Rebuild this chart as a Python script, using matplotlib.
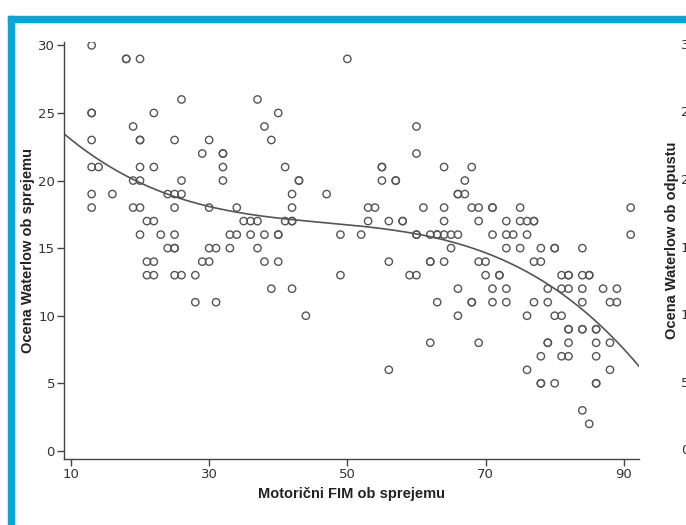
import numpy as np
import matplotlib
matplotlib.use("Agg")
import matplotlib.pyplot as plt
from matplotlib.patches import Rectangle

# Motoricni FIM ob sprejemu (x) and Ocena Waterlow ob sprejemu (y)
fim = [13, 18, 18, 20, 50,
       26, 37,
       13, 13, 22, 40,
       19, 38, 60,
       13, 20, 20, 25, 30, 39,
       29, 32, 32, 60,
       13, 14, 20, 22, 32, 41, 55, 55, 64, 68,
       19, 20, 26, 32, 43, 43, 55, 57, 57, 67,
       13, 16, 24, 25, 26, 42, 47, 66, 66, 67,
       13, 19, 20, 25, 30, 34, 42, 53, 54, 61, 64, 68, 69, 71, 71, 75, 91,
       21, 22, 35, 36, 37, 41, 42, 42, 53, 56, 58, 58, 64, 69, 73, 75, 76, 77, 77,
       20, 23, 25, 33, 34, 36, 38, 40, 40, 49, 52, 60, 60, 62, 63, 63, 64, 65, 66, 71, 73, 74, 76, 91,
       24, 25, 25, 30, 31, 33, 37, 65, 73, 75, 78, 80, 80, 84,
       21, 22, 29, 30, 38, 40, 56, 62, 62, 64, 69, 70, 77, 78,
       21, 22, 25, 26, 28, 49, 59, 60, 70, 72, 72, 81, 82, 82, 84, 85, 85,
       39, 42, 66, 71, 73, 79, 81, 82, 84, 87, 89,
       28, 31, 63, 68, 68, 71, 73, 77, 79, 84, 88, 89,
       44, 66, 76, 80, 81,
       82, 82, 84, 84, 86, 86,
       62, 69, 79, 79, 82, 86, 88,
       78, 81, 82, 86,
       56, 76, 88,
       78, 78, 80, 86, 86,
       84,
       85]
waterlow = [30, 29, 29, 29, 29,
            26, 26,
            25, 25, 25, 25,
            24, 24, 24,
            23, 23, 23, 23, 23, 23,
            22, 22, 22, 22,
            21, 21, 21, 21, 21, 21, 21, 21, 21, 21,
            20, 20, 20, 20, 20, 20, 20, 20, 20, 20,
            19, 19, 19, 19, 19, 19, 19, 19, 19, 19,
            18, 18, 18, 18, 18, 18, 18, 18, 18, 18, 18, 18, 18, 18, 18, 18, 18,
            17, 17, 17, 17, 17, 17, 17, 17, 17, 17, 17, 17, 17, 17, 17, 17, 17, 17, 17,
            16, 16, 16, 16, 16, 16, 16, 16, 16, 16, 16, 16, 16, 16, 16, 16, 16, 16, 16, 16, 16, 16, 16, 16,
            15, 15, 15, 15, 15, 15, 15, 15, 15, 15, 15, 15, 15, 15,
            14, 14, 14, 14, 14, 14, 14, 14, 14, 14, 14, 14, 14, 14,
            13, 13, 13, 13, 13, 13, 13, 13, 13, 13, 13, 13, 13, 13, 13, 13, 13,
            12, 12, 12, 12, 12, 12, 12, 12, 12, 12, 12,
            11, 11, 11, 11, 11, 11, 11, 11, 11, 11, 11, 11,
            10, 10, 10, 10, 10,
            9, 9, 9, 9, 9, 9,
            8, 8, 8, 8, 8, 8, 8,
            7, 7, 7, 7,
            6, 6, 6,
            5, 5, 5, 5, 5,
            3,
            2]

x_ticks = [10, 30, 50, 70, 90]
y_ticks = [0, 5, 10, 15, 20, 25, 30]

narrow = ["Liberation Sans Narrow", "DejaVu Sans"]
bold = ["Liberation Sans", "DejaVu Sans"]

fig = plt.figure(figsize=(6.86, 5.25), dpi=100)
fig.patch.set_facecolor("white")

# blue frame on top and left
blue = "#0aa6d6"
fig.patches.append(Rectangle((8 / 686, 0), 6 / 686, 1 - 16 / 525, transform=fig.transFigure,
                             color=blue, zorder=0))
fig.patches.append(Rectangle((8 / 686, 1 - 22 / 525), 1, 6 / 525, transform=fig.transFigure,
                             color=blue, zorder=0))

ax = fig.add_axes([64 / 686, 66 / 525, 575 / 686, 417 / 525])
ax.scatter(fim, waterlow, s=28, facecolors="none", edgecolors="#555555", linewidths=1.0, zorder=3)

# cubic fit line
coef = np.polyfit(fim, waterlow, 3)
xs = np.linspace(9.0, 92.2, 300)
ax.plot(xs, np.polyval(coef, xs), color="#555555", lw=1.2, zorder=2)

ax.set_xlim(9.0, 92.2)
ax.set_ylim(-0.6, 30.25)
ax.set_xticks(x_ticks)
ax.set_yticks(y_ticks)
ax.spines["top"].set_visible(False)
ax.spines["right"].set_visible(False)
for s in ("left", "bottom"):
    ax.spines[s].set_color("#444444")
    ax.spines[s].set_linewidth(1.0)
ax.tick_params(direction="out", length=5, width=1, color="#444444", labelcolor="#333333", labelsize=9.5)
ax.tick_params(axis="x", pad=1.5)
ax.tick_params(axis="y", pad=1.5)
for lab in ax.get_xticklabels() + ax.get_yticklabels():
    lab.set_family(narrow)

ax.set_xlabel("Motorični FIM ob sprejemu", family=bold, fontweight="bold", fontsize=10.5,
              color="#222222")
ax.set_ylabel("Ocena Waterlow ob sprejemu", family=bold, fontweight="bold", fontsize=10.5,
              color="#222222")
ax.xaxis.set_label_coords(0.5, -(487 - 459) / 417)
ax.yaxis.set_label_coords(-(64 - 35) / 575, 0.5)

# neighbouring panel cut off at the right edge
fig.text(672 / 686, 1 - 240 / 525, "Ocena Waterlow ob odpustu", rotation=90, ha="center", va="center",
         family=bold, fontweight="bold", fontsize=10.5, color="#222222")
for v in y_ticks:
    fig.text(681 / 686, 1 - (451 - v * 13.53) / 525, str(v), ha="left", va="center",
             family=narrow, fontsize=9.5, color="#333333")

fig.savefig("out.png", dpi=100)
